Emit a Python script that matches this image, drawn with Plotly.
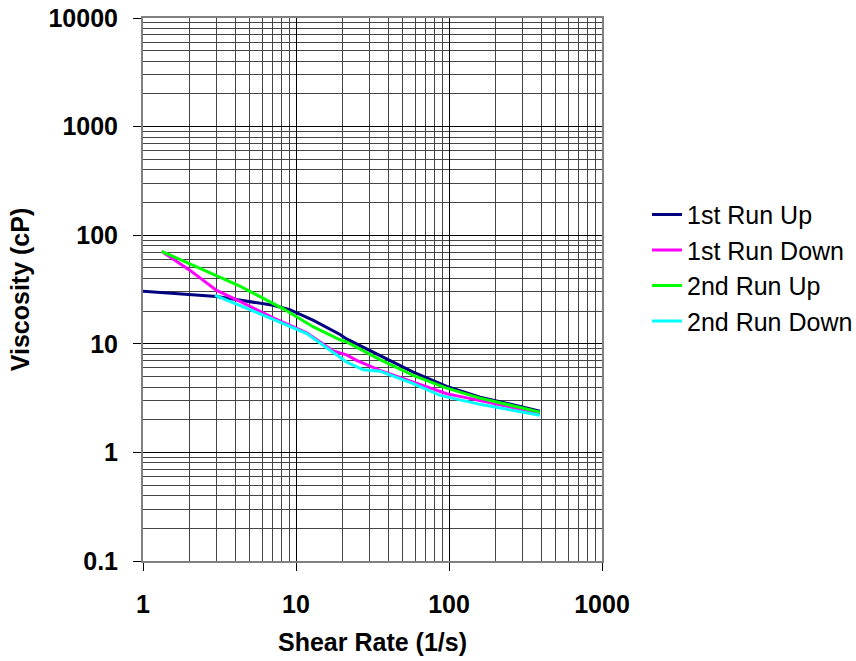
import plotly.graph_objects as go

# Data
run1_up_x = [1.0, 3.03, 7.1, 9.1, 13.0, 19.4, 21.4, 35.4, 58.4, 96.6, 159.5, 393]
run1_up_y = [30.4, 27.3, 22.6, 20.6, 16.4, 12.2, 11.1, 7.82, 5.49, 4.05, 3.23, 2.40]

run1_down_x = [1.325, 2.03, 3.03, 4.3, 7.1, 11.75, 17.5, 21.4, 24.9, 35.4, 58.4, 96.6, 124, 159.5, 393]
run1_down_y = [71, 47.4, 31, 24.6, 17.3, 12.6, 8.6, 7.9, 7.03, 5.69, 4.44, 3.47, 3.23, 3.01, 2.28]

run2_up_x = [1.325, 4.3, 8.26, 13.0, 19.4, 21.4, 35.4, 58.4, 96.6, 159.5, 393]
run2_up_y = [71, 33.9, 21, 14.3, 10.9, 10.4, 7.14, 5.12, 3.91, 3.16, 2.35]

run2_down_x = [2.96, 4.3, 7.1, 11.75, 16.7, 21.4, 27.5, 35.4, 58.4, 87.4, 159.5, 393]
run2_down_y = [27.9, 22.6, 16.8, 12.4, 8.7, 6.79, 5.77, 5.6, 4.29, 3.35, 2.77, 2.20]

series_names = ["1st Run Up", "1st Run Down", "2nd Run Up", "2nd Run Down"]
series_colors = ["#000080", "#FF00FF", "#00FF00", "#00FFFF"]

x_ticks = [1, 10, 100, 1000]
x_ticktext = ["1", "10", "100", "1000"]
y_ticks = [0.1, 1, 10, 100, 1000, 10000]
y_ticktext = ["0.1", "1", "10", "100", "1000", "10000"]

FONT = "Arial, Liberation Sans, sans-serif"
FS = 25

fig = go.Figure()
for xs, ys, name, col in zip(
    [run1_up_x, run1_down_x, run2_up_x, run2_down_x],
    [run1_up_y, run1_down_y, run2_up_y, run2_down_y],
    series_names, series_colors):
    fig.add_trace(go.Scatter(x=xs, y=ys, mode="lines", name=name,
                             line=dict(color=col, width=3)))

axis_common = dict(
    type="log",
    showline=True, linecolor="#808080", linewidth=2, mirror=True,
    ticks="outside", ticklen=8, tickcolor="#000000", tickwidth=1,
    showgrid=True, gridcolor="#000000", gridwidth=1,
    minor=dict(dtick="D1", showgrid=True, gridcolor="#444444", gridwidth=1, ticks=""),
    tickfont=dict(family=FONT, size=FS, color="#000000", weight="bold"),
    zeroline=False, automargin=False,
)

fig.update_xaxes(**axis_common, range=[0, 3], tickvals=x_ticks, ticktext=x_ticktext,
                 ticklabelstandoff=12,
                 title=dict(text="Shear Rate (1/s)", font=dict(family=FONT, size=FS, color="#000000", weight="bold"),
                            standoff=16))
fig.update_yaxes(**axis_common, range=[-1, 4], tickvals=y_ticks, ticktext=y_ticktext,
                 ticklabelstandoff=10,
                 title=dict(text="Viscosity (cP)", font=dict(family=FONT, size=FS, color="#000000", weight="bold"),
                            standoff=12))

fig.update_layout(
    width=856, height=661,
    margin=dict(l=143, r=254, t=18, b=100, autoexpand=False),
    paper_bgcolor="#FFFFFF", plot_bgcolor="#FFFFFF",
    font=dict(family=FONT, size=FS, color="#000000"),
    legend=dict(x=1.098, y=0.680, xanchor="left", yanchor="top",
                font=dict(family=FONT, size=FS, color="#000000"),
                bgcolor="rgba(0,0,0,0)", tracegroupgap=0, itemwidth=30),
    showlegend=True,
)

fig.write_html("out.html")
